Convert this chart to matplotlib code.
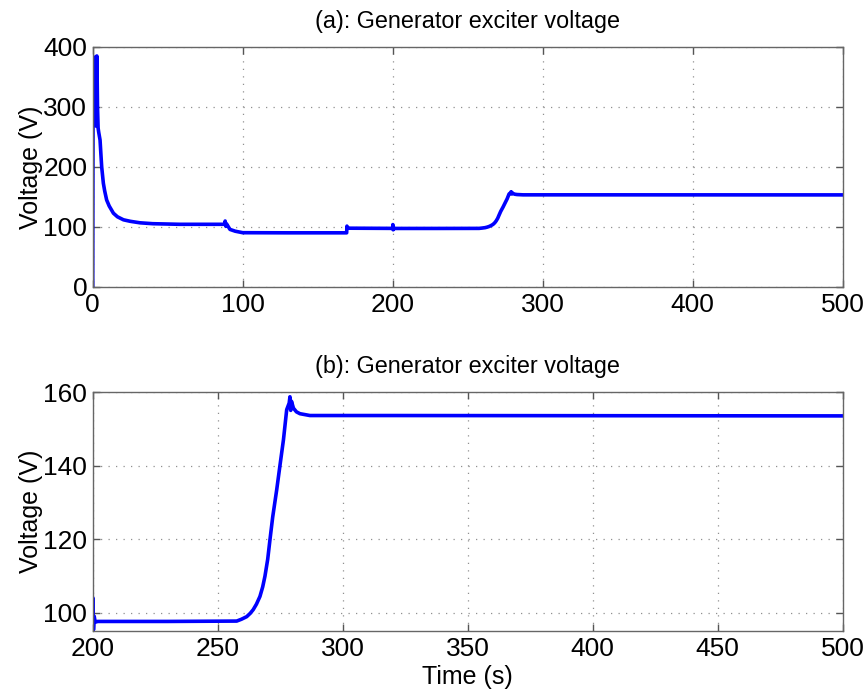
import matplotlib
matplotlib.use("Agg")
import matplotlib.pyplot as plt

plt.rcParams['font.family'] = ['Liberation Sans', 'DejaVu Sans']

# Data (time in s, voltage in V)
time_s = [0, 0.3, 0.8, 1.2, 1.6, 2.0, 2.4, 2.8, 3.2, 3.6, 4.0, 4.9, 5.5, 6, 7.1, 8,
          9.3, 11, 13.8, 16.5, 20.5, 25, 31.5, 40, 58, 88, 88.3, 88.8, 89.3,
          91.5, 95, 100, 130, 169.3, 169.5, 170, 171, 199.8, 200.0, 200.1, 200.3,
          200.6, 201, 202, 230, 257.6, 259.5, 261.6, 263, 264.2, 265.5, 266.9,
          268, 268.9, 270, 270.9, 272, 273.6, 275, 276.3, 277.6, 278.6, 278.9,
          279.2, 279.5, 280.3, 281.5, 282.9, 286.9, 320, 500]
voltage_v = [0, 370, 275, 380, 270, 384, 268, 385, 300, 265, 258, 245, 220, 200, 173, 160,
             145, 135, 123, 117, 112, 109.5, 107, 105.5, 104.5, 104.5, 110, 101, 105,
             96, 93, 90.5, 90.3, 90.3, 101.5, 98.5, 98, 97.7, 97.7, 104, 95.3,
             99, 97.4, 97.6, 97.6, 97.7, 98.2, 98.9, 99.8, 100.8, 102.3, 104.4,
             107, 109.9, 114.5, 119.8, 126, 133.4, 140.5, 147, 155.2, 157, 158.7,
             155, 157.5, 155.6, 154.6, 154.1, 153.6, 153.6, 153.5]

titles = ["(a): Generator exciter voltage", "(b): Generator exciter voltage"]
xticks_a = [0, 100, 200, 300, 400, 500]
yticks_a = [0, 100, 200, 300, 400]
xticks_b = [200, 250, 300, 350, 400, 450, 500]
yticks_b = [100, 120, 140, 160]

fig = plt.figure(figsize=(8.67, 6.92), dpi=100)
ax1 = fig.add_axes([92.7/867, (692-287)/692, 750/867, 240/692])
ax2 = fig.add_axes([92.7/867, (692-631)/692, 750/867, 239/692])

for ax, title, xt, yt, xl, yl in [
        (ax1, titles[0], xticks_a, yticks_a, (0, 500), (0, 400)),
        (ax2, titles[1], xticks_b, yticks_b, (200, 500), (95, 160))]:
    ax.plot(time_s, voltage_v, color='#0000ff', lw=2.6, solid_joinstyle='round')
    ax.set_xlim(*xl)
    ax.set_ylim(*yl)
    ax.set_xticks(xt)
    ax.set_yticks(yt)
    ax.set_title(title, fontsize=16.8, pad=14)
    ax.set_ylabel("Voltage (V)", fontsize=18, labelpad=0)
    ax.grid(True, color='#909090', linestyle=(0, (1, 5)), lw=0.9)
    ax.tick_params(direction='in', top=True, right=True, length=5,
                   width=1, colors='#555555', labelcolor='black', labelsize=19, pad=4)
    for sp in ax.spines.values():
        sp.set_color('#666666')
        sp.set_linewidth(1.0)

ax2.set_xlabel("Time (s)", fontsize=18, labelpad=3)

fig.savefig("out.png", dpi=100)
